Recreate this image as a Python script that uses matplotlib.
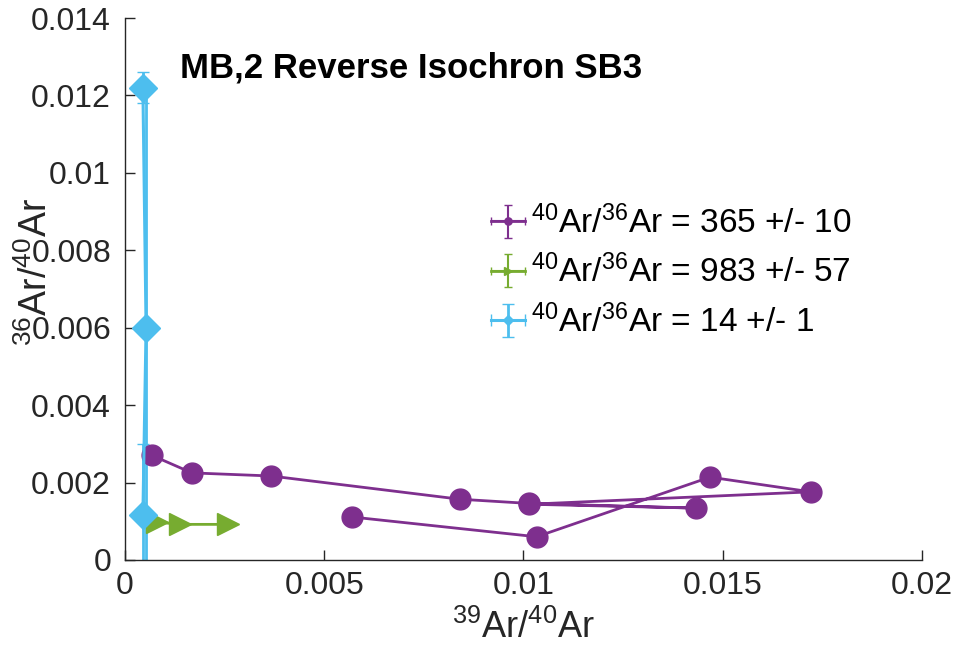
import numpy as np
import matplotlib
matplotlib.use("Agg")
import matplotlib.pyplot as plt
from matplotlib.ticker import FuncFormatter, MultipleLocator

plt.rcParams['font.family'] = ['Liberation Sans', 'DejaVu Sans']
plt.rcParams['mathtext.default'] = 'regular'

# Reverse isochron data (39Ar/40Ar, 36Ar/40Ar) for three step groups
purple_x = [0.00068, 0.00168, 0.00366, 0.0084, 0.01015, 0.01433, 0.01015,
            0.01721, 0.01468, 0.01033, 0.0057]
purple_y = [0.0027, 0.00225, 0.00217, 0.00157, 0.00146, 0.00134, 0.00144,
            0.00176, 0.00214, 0.00060, 0.00111]
purple_xerr = [0.00008, 0.00005, 0.00005, 0.00005, 0.00005, 0.00005, 0.00005,
               0.00005, 0.00005, 0.00005, 0.00005]
purple_yerr = [0.00006, 0.00005, 0.00005, 0.00005, 0.00005, 0.00005, 0.00005,
               0.00005, 0.00005, 0.00005, 0.00005]

green_x = [0.0008, 0.00138, 0.00258]
green_y = [0.00098, 0.00092, 0.00092]
green_xerr = [0.00003, 0.00003, 0.00003]
green_yerr = [0.00004, 0.00004, 0.00004]

cyan_x = [0.00045, 0.00053, 0.00045]
cyan_y = [0.0122, 0.0060, 0.00115]
cyan_xerr = [0.00002, 0.00002, 0.00002]
cyan_yerr = [0.0004, 0.0061, 0.00185]

labels = ['$^{40}$Ar/$^{36}$Ar = 365 +/- 10',
          '$^{40}$Ar/$^{36}$Ar = 983 +/- 57',
          '$^{40}$Ar/$^{36}$Ar = 14 +/- 1']

c_purple = '#7E2F8E'
c_green = '#77AC30'
c_cyan = '#4DBEEE'
axis_col = '#262626'

fig = plt.figure(figsize=(9.59, 6.62), dpi=100)
ax = fig.add_axes([0.1303, 0.1541, 0.8311, 0.8187])

h1 = ax.errorbar(purple_x, purple_y, yerr=purple_yerr, xerr=purple_xerr,
                 color=c_purple, marker='o', markersize=15, lw=2,
                 elinewidth=1.5, capsize=3, label=labels[0])
h2 = ax.errorbar(green_x, green_y, yerr=green_yerr, xerr=green_xerr,
                 color=c_green, marker='>', markersize=16, lw=2,
                 elinewidth=1.5, capsize=3, label=labels[1])
h3 = ax.errorbar(cyan_x, cyan_y, yerr=cyan_yerr, xerr=cyan_xerr,
                 color=c_cyan, marker='D', markersize=14, lw=2.2,
                 elinewidth=2, capsize=4, label=labels[2])

ax.set_xlim(0, 0.02)
ax.set_ylim(0, 0.014)
ax.xaxis.set_major_locator(MultipleLocator(0.005))
ax.yaxis.set_major_locator(MultipleLocator(0.002))
fmt = FuncFormatter(lambda v, p: '%g' % round(v, 6))
ax.xaxis.set_major_formatter(fmt)
ax.yaxis.set_major_formatter(fmt)

for side in ['top', 'right']:
    ax.spines[side].set_visible(False)
for side in ['left', 'bottom']:
    ax.spines[side].set_color(axis_col)
    ax.spines[side].set_linewidth(1)
ax.tick_params(direction='in', length=7, width=1, colors=axis_col,
               labelsize=23, labelcolor=axis_col)
ax.tick_params(axis='x', pad=8)
ax.tick_params(axis='y', pad=10)

ax.set_xlabel('$^{39}$Ar/$^{40}$Ar', fontsize=26, color=axis_col, labelpad=6)
fig.text(36 / 959, 1 - 272 / 662, '$^{36}$Ar/$^{40}$Ar', rotation=90,
         ha='center', va='center', fontsize=27, color=axis_col)

ax.text(0.069, 0.908, 'MB,2 Reverse Isochron SB3', transform=ax.transAxes,
        fontsize=25, fontweight='bold', ha='left', va='center')

leg = ax.legend(handles=[h1, h2, h3], loc='upper left',
                bbox_to_anchor=(478 / 959, 1 - 192 / 662),
                bbox_transform=fig.transFigure, frameon=False, fontsize=24,
                markerscale=0.35, handlelength=1.0, handletextpad=0.2,
                labelspacing=0.45, borderaxespad=0)

fig.savefig('out.png', dpi=100)
